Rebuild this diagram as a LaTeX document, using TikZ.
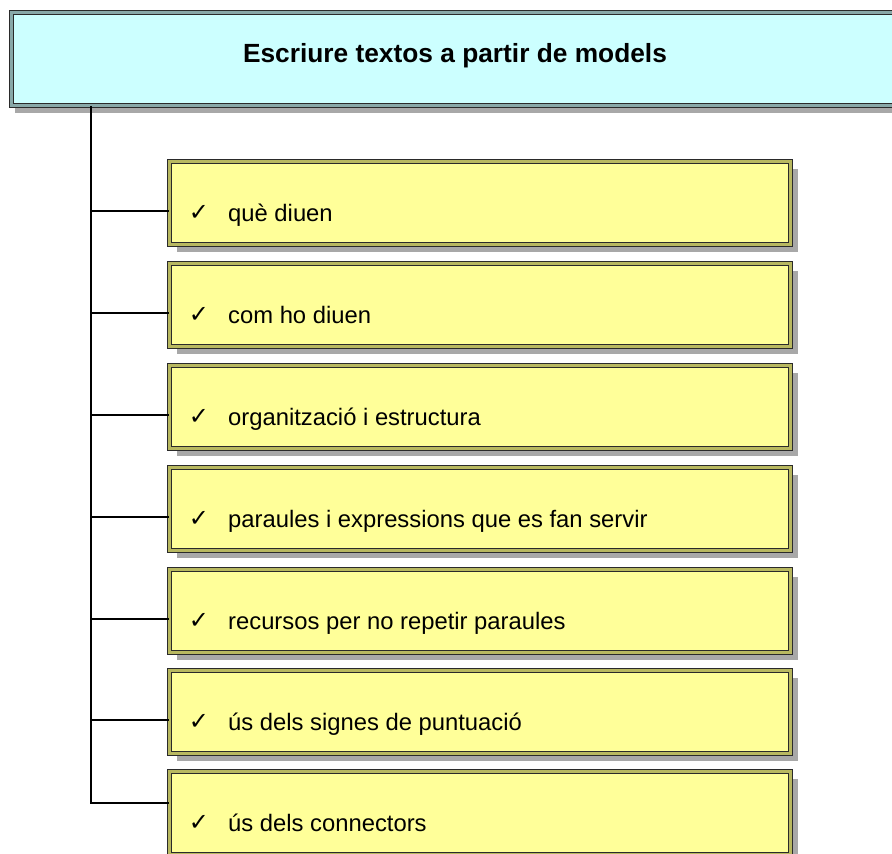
\documentclass[tikz,border=0pt]{standalone}
\usepackage{fontspec}
\setmainfont{Liberation Sans}
\newfontfamily\chkfont{DejaVu Sans}
\usetikzlibrary{shadows}
\definecolor{boxyellow}{HTML}{FFFF99}
\definecolor{boxcyan}{HTML}{CCFFFF}
\definecolor{edgedark}{HTML}{2A2A2A}
\definecolor{yelgap}{HTML}{B8B860}
\definecolor{cyangap}{HTML}{88A8A8}
\definecolor{shadowgray}{HTML}{A8A8A8}
\begin{document}
\begin{tikzpicture}[x=1pt,y=-1pt,
  itembox/.style={draw=edgedark, double=yelgap, double distance=2.4pt, line width=1.4pt,
    fill=boxyellow, minimum width=621pt, minimum height=83pt, inner sep=0pt,
    drop shadow={shadow xshift=7pt, shadow yshift=-7pt, fill=shadowgray, opacity=1}},
  titlebox/.style={draw=edgedark, double=cyangap, double distance=2.4pt, line width=1.4pt,
    fill=boxcyan, minimum width=891pt, minimum height=93pt, inner sep=0pt,
    drop shadow={shadow xshift=3pt, shadow yshift=-7pt, fill=shadowgray, opacity=1}},
  itemtext/.style={anchor=base west, inner sep=0pt, font=\fontsize{23.8}{28}\selectfont},
  chk/.style={anchor=base, inner sep=0pt, font=\chkfont\fontsize{24}{28}\selectfont},
  titletext/.style={anchor=base, inner sep=0pt, font=\fontsize{26.3}{30}\selectfont\bfseries},
  link/.style={draw=black, line width=2.1pt}
]
\useasboundingbox (0,0) rectangle (892,854);
\clip (0,0) rectangle (892,854);

% title box
\node[titlebox] (t) at (457,59) {};
\node[titletext] (tt) at (455,62) {Escriure textos a partir de models};

% spine coordinates
\coordinate (s0) at (91,106);

% item boxes
\foreach \i/\top in {1/159,2/261,3/363,4/465,5/567,6/668,7/769}{
  \node[itembox] (b\i) at (480,\top+44) {};
}
\foreach \i in {1,...,6}{
  \coordinate (p\i) at ([yshift=-8pt]b\i.west);
}
\coordinate (p7) at ([yshift=10pt]b7.west);

% connectors
\draw[link] (s0) |- (p7);
\foreach \i in {1,...,6}{
  \draw[link] (s0 |- p\i) -- (p\i);
}

% texts
\foreach \i/\top/\txt in {1/159/què diuen,2/261/com ho diuen,3/363/organització i estructura,
  4/465/paraules i expressions que es fan servir,5/567/recursos per no repetir paraules,
  6/668/ús dels signes de puntuació,7/769/ús dels connectors}{
  \node[chk] (c\i) at (199,\top+61) {✓};
  \node[itemtext] (x\i) at (228,\top+62) {\txt};
}
\end{tikzpicture}
\end{document}
